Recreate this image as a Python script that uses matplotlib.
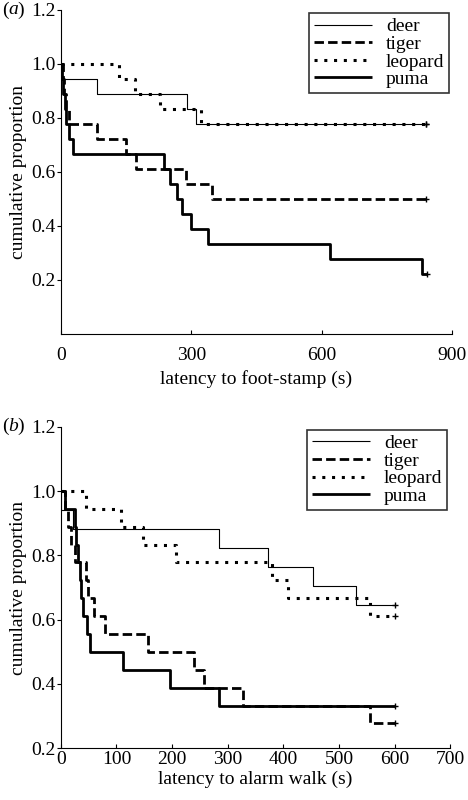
import matplotlib
matplotlib.use("Agg")
import matplotlib.pyplot as plt

plt.rcParams['font.family'] = ['Liberation Serif', 'DejaVu Serif']

# ---- panel (a): latency to foot-stamp ----
deer_a_t = [0, 3, 84, 290, 311, 840]
deer_a_s = [1.0, 0.944, 0.889, 0.833, 0.778, 0.778]
tiger_a_t = [0, 4, 8, 13, 18, 84, 150, 172, 289, 347, 840]
tiger_a_s = [1.0, 0.944, 0.889, 0.833, 0.778, 0.722, 0.667, 0.611, 0.556, 0.5, 0.5]
leopard_a_t = [0, 134, 170, 228, 322, 840]
leopard_a_s = [1.0, 0.944, 0.889, 0.833, 0.778, 0.778]
puma_a_t = [0, 2, 5, 9, 13, 18, 27, 238, 252, 268, 279, 299, 338, 619, 830, 842]
puma_a_s = [1.0, 0.944, 0.889, 0.833, 0.778, 0.722, 0.667, 0.611, 0.556, 0.5,
            0.444, 0.389, 0.333, 0.278, 0.222, 0.222]

# ---- panel (b): latency to alarm walk ----
deer_b_t = [0, 1, 22, 285, 372, 454, 530, 600]
deer_b_s = [1.0, 0.941, 0.882, 0.824, 0.765, 0.706, 0.647, 0.647]
tiger_b_t = [0, 8, 12, 18, 25, 45, 48, 60, 79, 156, 240, 257, 328, 556, 600]
tiger_b_s = [1.0, 0.944, 0.889, 0.833, 0.778, 0.722, 0.667, 0.611, 0.556, 0.5,
             0.444, 0.389, 0.333, 0.278, 0.278]
leopard_b_t = [0, 45, 109, 148, 207, 379, 409, 556, 600]
leopard_b_s = [1.0, 0.944, 0.889, 0.833, 0.778, 0.722, 0.667, 0.611, 0.611]
puma_b_t = [0, 7, 25, 27, 30, 34, 37, 40, 47, 52, 112, 197, 285, 600]
puma_b_s = [1.0, 0.944, 0.889, 0.833, 0.778, 0.722, 0.667, 0.611, 0.556, 0.5,
            0.444, 0.389, 0.333, 0.333]

names = ['deer', 'tiger', 'leopard', 'puma']
styles = [
    dict(color='black', lw=0.8, ls='-'),
    dict(color='black', lw=2.0, ls=(0, (3.4, 1.5))),
    dict(color='black', lw=2.2, ls=(0, (1, 2.2))),
    dict(color='black', lw=2.0, ls='-'),
]
fs = 14

fig = plt.figure(figsize=(4.68, 8), dpi=100)
ax1 = fig.add_axes([0.130, 0.5825, 0.836, 0.405])
ax2 = fig.add_axes([0.130, 0.0646, 0.832, 0.402])

panels = [
    (ax1, [(deer_a_t, deer_a_s), (tiger_a_t, tiger_a_s), (leopard_a_t, leopard_a_s), (puma_a_t, puma_a_s)],
     'latency to foot-stamp (s)', (0, 900), [0, 300, 600, 900], (0, 1.2), 'a', 9),
    (ax2, [(deer_b_t, deer_b_s), (tiger_b_t, tiger_b_s), (leopard_b_t, leopard_b_s), (puma_b_t, puma_b_s)],
     'latency to alarm walk (s)', (0, 700), list(range(0, 701, 100)), (0.2, 1.2), 'b', 2),
]

for ax, series, xlab, xlim, xt, ylim, tag, xpad in panels:
    for (t, s), name, st in zip(series, names, styles):
        ax.step(t, s, where='post', label=name, solid_capstyle='butt', **st)
        ax.plot(t[-1], s[-1], marker='+', color='black', ms=5, mew=1.0)
    ax.set_xlim(*xlim)
    ax.set_ylim(*ylim)
    ax.set_xticks(xt)
    ax.set_yticks([0.2, 0.4, 0.6, 0.8, 1.0, 1.2])
    ax.set_yticklabels(['0.2', '0.4', '0.6', '0.8', '1.0', '1.2'])
    ax.spines['top'].set_visible(False)
    ax.spines['right'].set_visible(False)
    ax.tick_params(axis='y', direction='out', length=3, labelsize=fs, pad=1)
    ax.tick_params(axis='x', direction='in', length=3, labelsize=fs, pad=xpad)
    ax.set_xlabel(xlab, fontsize=fs, labelpad=5 if tag == 'a' else 2)
    ax.set_ylabel('cumulative proportion', fontsize=fs, labelpad=3)
    leg = ax.legend(loc='upper right', fontsize=fs, frameon=True, fancybox=False,
                    edgecolor='black', handlelength=3.0, borderpad=0.25,
                    labelspacing=0.0, handletextpad=0.7, borderaxespad=0.15)
    leg.get_frame().set_linewidth(1.2)

# panel tags with italic letters, placed in figure coordinates
for ax, tag in [(ax1, 'a'), (ax2, 'b')]:
    ytop = ax.get_position().y1
    fig.text(0.004, ytop, r'(', fontsize=fs, va='center', ha='left')
    fig.text(0.017, ytop, tag, fontsize=fs, va='center', ha='left', style='italic')
    fig.text(0.036, ytop, r')', fontsize=fs, va='center', ha='left')

fig.savefig('out.png', dpi=100)
